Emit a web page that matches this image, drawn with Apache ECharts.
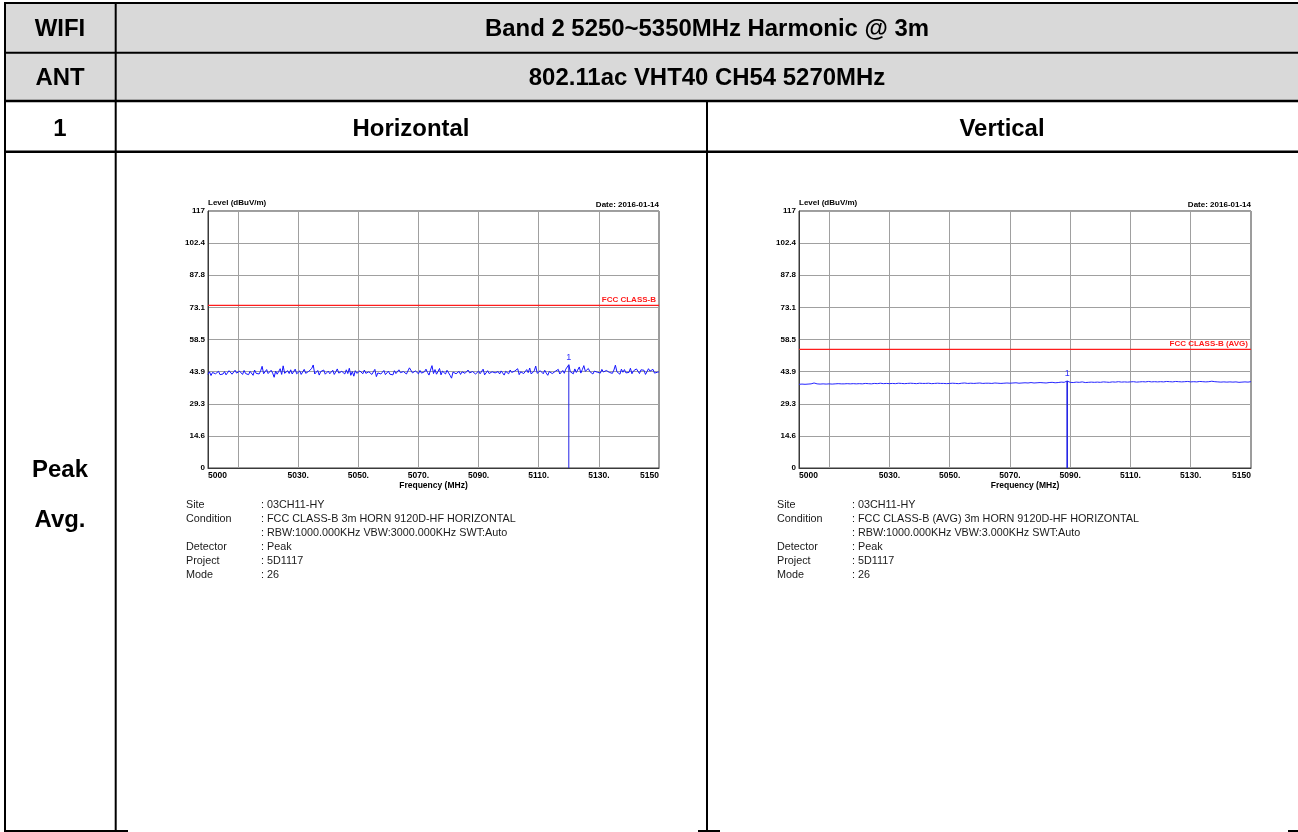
<!DOCTYPE html>
<html><head><meta charset="utf-8">
<script src="https://cdn.jsdelivr.net/npm/echarts@6/dist/echarts.min.js"></script>
<style>html,body{margin:0;padding:0;background:#fff}#c{width:1298px;height:832px}</style>
</head><body><div id="c"></div>
<script>
// ---------- data ----------
const freqStart = 5000;
const freqStop = 5150;
const hStep = 0.5;   // sweep step of horizontal trace (MHz)
const vStep = 1;     // sweep step of vertical trace (MHz)

const hLevels = [
 42.6,43.8,42.1,43.5,44.2,42.9,43.1,44.0,42.5,43.3,
 42.8,43.9,42.4,43.0,44.3,43.6,42.7,43.4,44.5,43.2,
 42.9,44.1,43.5,42.6,44.4,43.0,43.8,42.5,44.0,43.3,
 42.2,44.6,43.1,43.7,42.8,44.2,46.3,42.9,43.5,44.8,
 43.0,42.4,44.5,43.2,41.3,44.1,42.7,43.9,45.2,42.6,
 46.5,43.1,42.5,44.3,43.0,44.7,42.8,43.6,45.0,42.9,
 43.8,44.2,42.6,43.5,44.9,43.1,42.4,44.0,43.4,45.3,
 46.9,42.8,43.7,44.4,42.3,43.9,43.0,44.6,42.7,43.5,
 44.1,42.9,43.3,44.5,42.6,43.8,45.1,43.2,42.5,44.0,
 43.6,42.8,44.7,43.0,45.4,42.2,43.9,41.8,44.3,43.1,
 42.7,44.2,43.4,42.9,44.6,43.1,42.3,43.8,44.5,42.6,
 43.5,44.9,41.6,43.3,44.0,42.8,43.7,44.4,42.5,43.2,
 44.1,42.7,43.6,42.4,44.3,43.0,42.9,44.7,43.4,42.6,
 43.9,44.5,42.8,43.1,45.6,46.5,43.3,42.5,44.2,43.7,
 42.9,44.4,43.2,42.6,43.8,45.0,43.5,42.3,44.6,46.6,
 43.0,44.8,42.7,43.9,45.3,42.4,44.1,43.3,42.8,44.5,
 43.6,42.2,40.9,43.7,44.3,42.9,43.4,44.0,42.6,43.8,
 44.2,43.1,42.7,44.6,43.3,42.5,43.9,44.4,42.8,43.5,
 44.1,42.9,43.6,45.0,42.4,43.2,44.3,43.0,42.7,43.8,
 44.5,43.3,42.6,43.9,42.8,44.2,43.4,42.3,44.0,43.1,
 42.9,44.6,43.5,42.7,44.1,43.2,45.2,42.5,43.8,44.4,
 43.0,42.6,44.8,43.4,45.5,42.8,43.7,44.2,46.4,43.1,
 42.4,44.3,43.6,42.9,44.5,43.2,42.2,43.9,44.7,43.0,
 42.7,44.0,43.5,44.9,42.8,43.6,44.4,43.1,45.0,44.2,
 47.0,43.8,44.6,42.9,45.1,43.5,44.3,46.0,43.2,44.8,
 46.6,44.0,43.4,45.3,43.9,44.7,42.8,44.1,45.0,43.6,
 44.5,43.2,44.9,43.7,42.9,44.4,45.2,43.5,44.0,43.1,
 44.6,46.8,43.8,44.3,42.7,45.0,43.6,44.8,43.3,44.1,
 43.5,45.4,42.9,44.2,43.7,45.1,44.4,43.0,44.7,43.9,
 44.5,42.6,43.8,45.2,44.1,43.4,44.9,43.2,44.0,43.6,
 43.8
];

const vLevels = [
 38.1,38.2,38.1,38.2,38.3,38.7,38.3,38.2,38.3,38.2,
 38.3,38.2,38.3,38.4,38.3,38.3,38.4,38.3,38.4,38.3,
 38.4,38.3,38.5,38.4,38.3,38.5,38.4,38.6,38.4,38.5,
 38.4,38.5,38.4,38.6,38.5,38.4,38.5,38.6,38.5,38.4,
 38.6,38.5,38.5,38.6,38.4,38.5,38.6,38.5,38.5,38.4,
 38.5,38.6,38.5,38.4,38.6,38.7,38.5,38.6,38.5,38.6,
 38.7,38.5,38.6,38.6,38.5,38.7,38.6,38.5,38.6,38.7,
 38.6,38.7,38.8,38.6,38.7,38.8,38.7,38.9,38.7,38.8,
 38.9,38.8,38.7,38.9,39.0,38.8,38.9,39.1,39.0,39.6,
 39.0,38.9,39.1,39.0,39.2,38.9,39.0,39.1,39.0,39.1,
 39.0,39.2,39.1,39.0,39.2,39.1,39.3,39.1,39.2,39.1,
 39.2,39.3,39.1,39.2,39.3,39.2,39.4,39.2,39.3,39.2,
 39.3,39.2,39.4,39.3,39.2,39.4,39.3,39.2,39.3,39.4,
 39.2,39.3,39.2,39.4,39.3,39.2,39.3,39.5,39.3,39.2,
 39.1,39.2,39.1,39.2,39.1,39.2,39.0,39.1,39.2,39.1,
 39.3
];

const yMin = 0, yMax = 117, yStep = 14.625;
const yTickLabels = ['0','14.6','29.3','43.9','58.5','73.1','87.8','102.4','117'];
const xTickValues = [5010,5030,5050,5070,5090,5110,5130];
const xLabelValues = [5000,5030,5050,5070,5090,5110,5130,5150];
const xLabelTexts = ['5000','5030.','5050.','5070.','5090.','5110.','5130.','5150'];

const limitLevels = [74, 54];
const limitNames = ['FCC CLASS-B', 'FCC CLASS-B (AVG)'];
const markerFreqs = [5120, 5089];
const markerLevels = [47.0, 39.6];
const markerNames = ['1', '1'];

const headerRows = [
  ['WIFI', 'Band 2 5250~5350MHz Harmonic @ 3m'],
  ['ANT', '802.11ac VHT40 CH54 5270MHz']
];
const columnTitles = ['1', 'Horizontal', 'Vertical'];
const rowTitles = ['Peak', 'Avg.'];
const infoLabels = ['Site', 'Condition', '', 'Detector', 'Project', 'Mode'];
const infoValuesH = [': 03CH11-HY', ': FCC CLASS-B 3m HORN 9120D-HF HORIZONTAL', ': RBW:1000.000KHz VBW:3000.000KHz SWT:Auto', ': Peak', ': 5D1117', ': 26'];
const infoValuesV = [': 03CH11-HY', ': FCC CLASS-B (AVG) 3m HORN 9120D-HF HORIZONTAL', ': RBW:1000.000KHz VBW:3.000KHz SWT:Auto', ': Peak', ': 5D1117', ': 26'];
const dateText = 'Date: 2016-01-14';
const yName = 'Level (dBuV/m)';
const xName = 'Frequency (MHz)';

// ---------- build ----------
const FF = '"Liberation Sans", Arial, sans-serif';
const chart = echarts.init(document.getElementById('c'), null, {renderer: 'canvas'});

const grids = [
  {left: 208, top: 211, width: 451, height: 257},
  {left: 799, top: 211, width: 452, height: 257}
];

function xAxisFor(i) {
  return {
    type: 'value', gridIndex: i, min: freqStart, max: freqStop,
    axisLine: {show: true, lineStyle: {color: '#3a3a3a', width: 1}},
    axisTick: {show: false, customValues: xTickValues},
    splitLine: {show: true, lineStyle: {color: '#a0a0a0', width: 1}},
    axisLabel: {
      customValues: xLabelValues,
      formatter: v => { const k = xLabelValues.indexOf(Math.round(v)); return k >= 0 ? xLabelTexts[k] : ''; },
      color: '#000', fontSize: 8.5, fontWeight: 'bold', fontFamily: FF, margin: 3,
      alignMinLabel: 'left', alignMaxLabel: 'right', hideOverlap: false
    },
    name: xName, nameLocation: 'middle', nameGap: 13,
    nameTextStyle: {color: '#000', fontSize: 8.5, fontWeight: 'bold', fontFamily: FF}
  };
}
function yAxisFor(i) {
  return {
    type: 'value', gridIndex: i, min: yMin, max: yMax, interval: yStep,
    axisLine: {show: true, lineStyle: {color: '#3a3a3a', width: 1}},
    axisTick: {show: false},
    splitLine: {show: true, lineStyle: {color: '#a0a0a0', width: 1}},
    axisLabel: {
      formatter: v => yTickLabels[Math.round(v / yStep)],
      color: '#000', fontSize: 8, fontWeight: 'bold', fontFamily: FF, margin: 3
    },
    name: yName, nameLocation: 'end', nameGap: 2,
    nameTextStyle: {align: 'left', verticalAlign: 'bottom', color: '#000', fontSize: 8, fontWeight: 'bold', fontFamily: FF, padding: 0}
  };
}

const traces = [
  hLevels.map((v, i) => [freqStart + i * hStep, v]),
  vLevels.map((v, i) => [freqStart + i * vStep, v])
];
const traceColors = ['#1414ff', '#2626ff'];
const markerWidths = [1, 1.6];

const series = [];
[0, 1].forEach(i => {
  // limit line
  series.push({
    type: 'line', xAxisIndex: i, yAxisIndex: i, silent: true, z: 3,
    showSymbol: true, symbol: 'circle', symbolSize: 1,
    itemStyle: {color: 'rgba(0,0,0,0)'},
    lineStyle: {color: '#ff1c1c', width: 1.2},
    data: [
      {value: [freqStart, limitLevels[i]]},
      {value: [freqStop, limitLevels[i]], label: {show: true, formatter: limitNames[i], position: 'top', align: 'right', offset: [-3, 0], distance: 1, color: '#ff1a1a', fontSize: 8, fontWeight: 'bold', fontFamily: FF}}
    ]
  });
  // trace
  series.push({
    type: 'line', xAxisIndex: i, yAxisIndex: i, data: traces[i], z: 4,
    showSymbol: false, symbol: 'none', silent: true,
    lineStyle: {color: traceColors[i], width: 1}
  });
  // marker
  series.push({
    type: 'line', xAxisIndex: i, yAxisIndex: i, silent: true, z: 5,
    showSymbol: true, symbol: 'circle', symbolSize: 1,
    itemStyle: {color: 'rgba(0,0,0,0)'},
    lineStyle: {color: '#2323e6', width: markerWidths[i]},
    data: [
      {value: [markerFreqs[i], yMin]},
      {value: [markerFreqs[i], markerLevels[i]], label: {show: true, formatter: markerNames[i], position: 'top', distance: 2, color: '#3030ff', fontSize: 9, fontFamily: FF}}
    ]
  });
});

// ---------- table / text graphics ----------
const G = [];
const lineC = '#000';
G.push({type: 'rect', shape: {x: 5, y: 3, width: 1293, height: 98}, style: {fill: '#d9d9d9'}, z: 0});
function hl(x1, x2, y, w) { G.push({type: 'line', shape: {x1, y1: y, x2, y2: y}, style: {stroke: lineC, lineWidth: w}, z: 5}); }
function vl(x, y1, y2, w) { G.push({type: 'line', shape: {x1: x, y1, x2: x, y2}, style: {stroke: lineC, lineWidth: w}, z: 5}); }
hl(4, 1298, 3, 2);
hl(4, 1298, 52.7, 2);
hl(4, 1298, 101, 2.6);
hl(4, 1298, 151.7, 2.4);
vl(5, 2, 832, 2);
vl(115.7, 2, 832, 2);
vl(707, 100, 832, 2);
hl(4, 128, 831, 2);
hl(698, 720, 831, 2);
hl(1288, 1298, 831, 2);

function txt(x, y, s, size, sx) {
  G.push({type: 'text', x, y, scaleX: sx, z: 6,
    style: {text: s, font: 'bold ' + size + 'px ' + FF, fill: '#000', align: 'center', verticalAlign: 'middle'}});
}
const HS = 23, HX = 1.04;
txt(60, 29.5, headerRows[0][0], HS, HX);
txt(707, 29.5, headerRows[0][1], HS, HX);
txt(60, 78.5, headerRows[1][0], HS, HX);
txt(707, 78.5, headerRows[1][1], HS, HX);
txt(60, 129.5, columnTitles[0], HS, HX);
txt(411, 129.5, columnTitles[1], HS, HX);
txt(1002, 129.5, columnTitles[2], HS, HX);
txt(60, 470.5, rowTitles[0], HS, HX);
txt(60, 520.5, rowTitles[1], HS, HX);

// date labels above plots (right aligned to plot edge)
grids.forEach(g => {
  G.push({type: 'text', x: g.left + g.width, y: 205, z: 6,
    style: {text: dateText, font: 'bold 8px ' + FF, fill: '#000', align: 'right', verticalAlign: 'middle'}});
});

// info block under each plot
const infoFont = '10.8px ' + FF;
[[186, 261, infoValuesH], [777, 852, infoValuesV]].forEach(([lx, vx, vals]) => {
  infoLabels.forEach((l, k) => {
    const y = 505 + k * 14.1;
    if (l) G.push({type: 'text', x: lx, y, z: 6, style: {text: l, font: infoFont, fill: '#1a1a1a', align: 'left', verticalAlign: 'middle'}});
    G.push({type: 'text', x: vx, y, z: 6, style: {text: vals[k], font: infoFont, fill: '#1a1a1a', align: 'left', verticalAlign: 'middle'}});
  });
});

chart.setOption({
  animation: false,
  backgroundColor: '#fff',
  grid: grids.map(g => Object.assign({show: true, borderColor: '#3a3a3a', borderWidth: 1, backgroundColor: '#fff'}, g)),
  xAxis: [xAxisFor(0), xAxisFor(1)],
  yAxis: [yAxisFor(0), yAxisFor(1)],
  series,
  graphic: G
});
</script></body></html>
